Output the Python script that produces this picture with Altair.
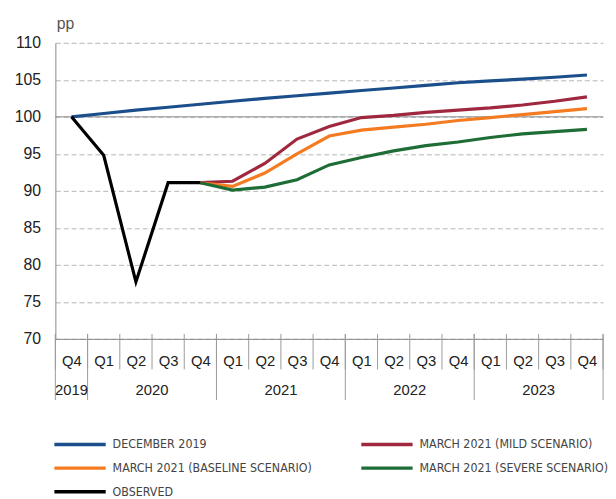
import altair as alt
import pandas as pd

# ---- data ----
quarters = ["Q4"] + ["Q1", "Q2", "Q3", "Q4"] * 4
years = ["2019", "2020", "2021", "2022", "2023"]
year_quarters = [1, 4, 4, 4, 4]

dec2019 = [100.0, 100.45, 100.9, 101.3, 101.7, 102.1, 102.5, 102.85, 103.2,
           103.55, 103.9, 104.25, 104.6, 104.85, 105.1, 105.35, 105.65]
observed = [100.0, 94.8, 77.7, 91.1, 91.1]
mild = [91.1, 91.3, 93.7, 97.0, 98.7, 99.9, 100.2, 100.6, 100.9, 101.2, 101.6, 102.1, 102.7]
baseline = [91.1, 90.6, 92.4, 95.0, 97.4, 98.2, 98.6, 99.0, 99.5, 99.9, 100.3, 100.7, 101.1]
severe = [91.1, 90.1, 90.5, 91.5, 93.5, 94.5, 95.4, 96.1, 96.6, 97.2, 97.7, 98.0, 98.3]

series_names = ["DECEMBER 2019", "MARCH 2021 (MILD SCENARIO)",
                "MARCH 2021 (BASELINE SCENARIO)", "MARCH 2021 (SEVERE SCENARIO)", "OBSERVED"]
series_colors = ["#1b4f8b", "#a0283e", "#f47b20", "#1f6d36", "#000000"]

# ---- tables ----
rows = []
def add(name, vals, start):
    for i, v in enumerate(vals):
        rows.append({"series": name, "pos": start + i + 0.5, "value": v})

add(series_names[0], dec2019, 0)
add(series_names[1], mild, 4)
add(series_names[2], baseline, 4)
add(series_names[3], severe, 4)
add(series_names[4], observed, 0)
df = pd.DataFrame(rows)

bounds = [0]
for n in year_quarters:
    bounds.append(bounds[-1] + n)
year_df = pd.DataFrame({
    "year": years,
    "pos": [bounds[i] + year_quarters[i] / 2 for i in range(len(years))],
})
qsep_df = pd.DataFrame({"pos": list(range(len(quarters) + 1))})
ysep_df = pd.DataFrame({"pos": bounds})
ref_df = pd.DataFrame({"value": [100]})

xscale = alt.Scale(domain=[0, len(quarters)], nice=False, zero=False)
yscale = alt.Scale(domain=[70, 110], nice=False, zero=False)

label_expr = "[" + ",".join("'%s'" % q for q in quarters) + "][floor(datum.value)]"
FONT = "Liberation Sans"

xaxis = alt.Axis(values=[i + 0.5 for i in range(len(quarters))], tickCount=40, labelExpr=label_expr,
                 ticks=False, grid=False, domain=True, domainColor="#888888",
                 labelFont=FONT, labelFontSize=15, labelColor="#222222", labelPadding=27,
                 labelBaseline="alphabetic", labelFlush=False, labelOverlap=False)
yaxis = alt.Axis(values=list(range(70, 111, 5)), tickCount=40, grid=True, gridDash=[5, 3],
                 gridColor="#b5b5b5", ticks=False, domainColor="#888888",
                 labelPadding=15, labelFont=FONT, labelFontSize=16, labelColor="#222222",
                 labelOverlap=False, labelFlush=False,
                 titleAngle=0, titleX=1, titleY=-15, titleAlign="left",
                 titleBaseline="alphabetic", titleFontWeight="normal", titleFont=FONT,
                 titleFontSize=16, titleColor="#555555")

X = alt.X("pos:Q", scale=xscale, title=None, axis=xaxis)
Y = alt.Y("value:Q", scale=yscale, title="pp", axis=yaxis)

lines = alt.Chart(df).mark_line(strokeWidth=3.2).encode(
    x=X, y=Y,
    color=alt.Color("series:N", scale=alt.Scale(domain=series_names, range=series_colors),
                    legend=alt.Legend(title=None, orient="none", legendX=-3, legendY=400,
                                      direction="horizontal", columns=2,
                                      symbolType="M-1,0H9.4", symbolSize=100,
                                      symbolStrokeWidth=3.5, labelFontSize=12.5,
                                      labelFont="Liberation Sans Narrow, DejaVu Sans Condensed, sans-serif",
                                      labelColor="#444444", labelOffset=47, columnPadding=43,
                                      rowPadding=10, labelLimit=400)),
)

ref = alt.Chart(ref_df).mark_rule(color="#8a8a8a", strokeWidth=1).encode(y=Y)

qsep = alt.Chart(qsep_df).mark_rule(color="#9a9a9a", strokeWidth=1).encode(
    x=X, y=alt.value(295), y2=alt.value(331),
)
ysep = alt.Chart(ysep_df).mark_rule(color="#9a9a9a", strokeWidth=1).encode(
    x=X, y=alt.value(295), y2=alt.value(362),
)
ylabels = alt.Chart(year_df).mark_text(fontSize=15, font=FONT, color="#222222",
                                       baseline="alphabetic", align="center").encode(
    x=X, y=alt.value(357), text="year:N",
)

chart = alt.layer(ref, qsep, ysep, ylabels, lines).properties(
    width=555, height=300,
    autosize=alt.AutoSizeParams(type="none"),
    padding={"left": 48, "top": 32, "right": 5, "bottom": 159},
).configure(font=FONT).configure_view(stroke=None)

chart.save("out.html", embed_options={"renderer": "svg", "actions": False})
